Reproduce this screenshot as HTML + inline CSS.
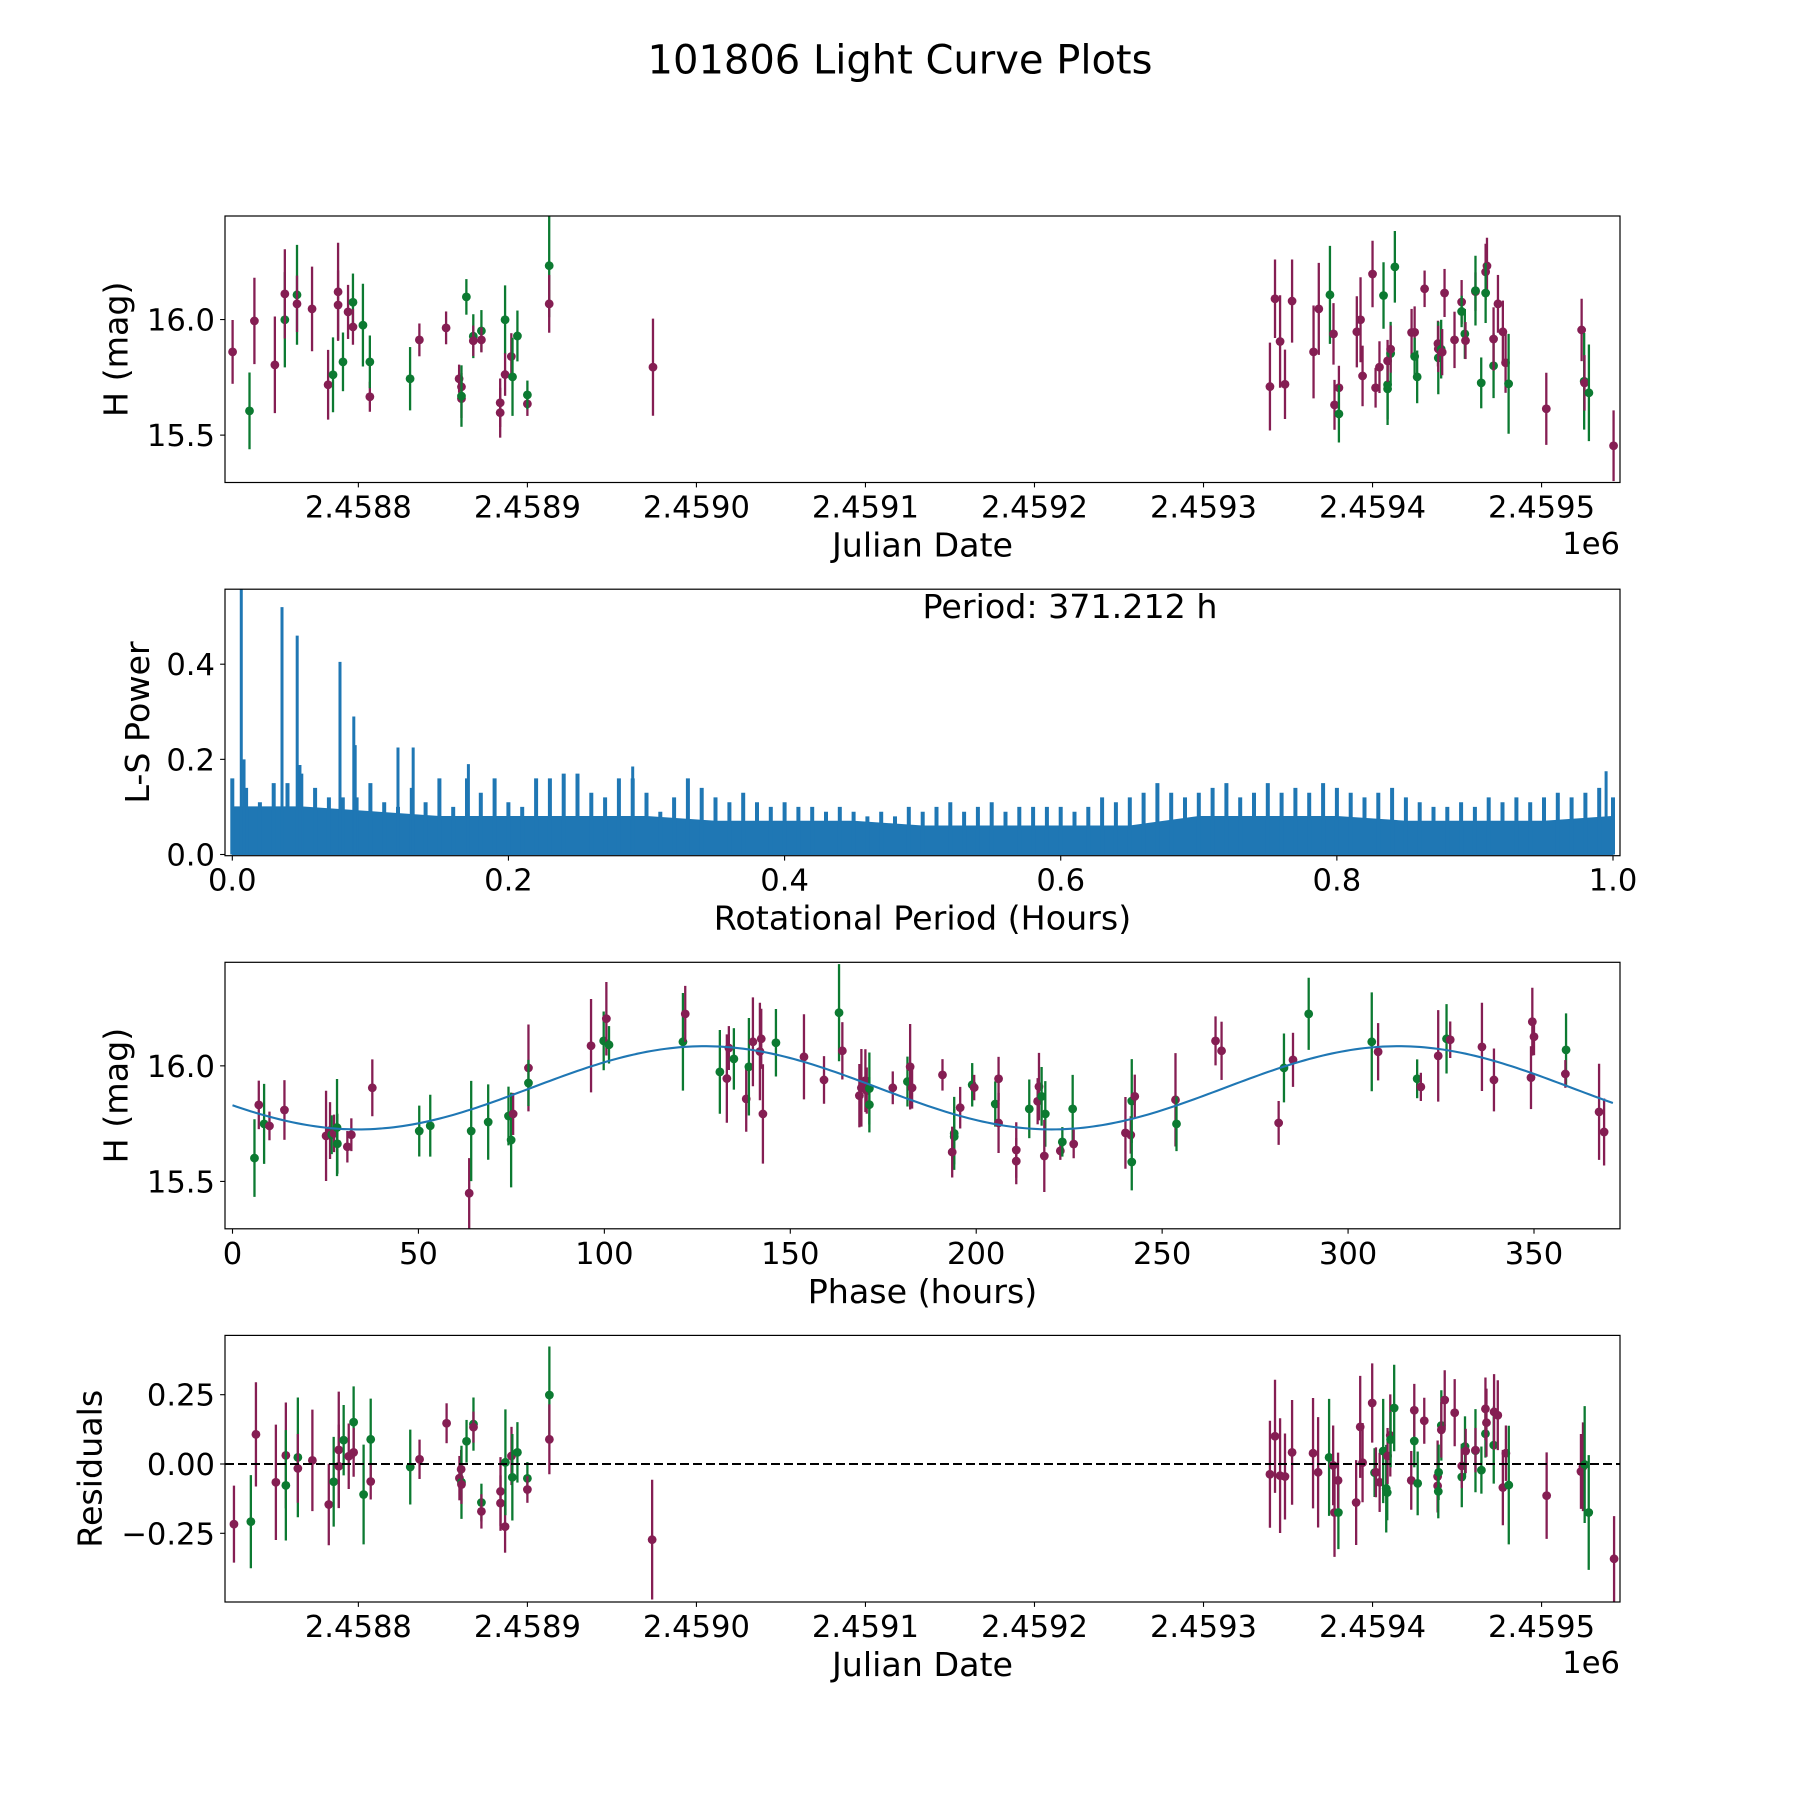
<!DOCTYPE html>
<html>
<head>
<meta charset="utf-8">
<title>101806 Light Curve Plots</title>
<style>
  html, body { margin: 0; padding: 0; background: #ffffff; }
  svg { display: block; font-family: "DejaVu Sans", "Liberation Sans", sans-serif; }
  .tick { font-size: 30.6px; fill: #000; }
  .lab { font-size: 33.3px; fill: #000; }
</style>
</head>
<body>
<svg id="fig" xmlns="http://www.w3.org/2000/svg" width="1800" height="1800" viewBox="0 0 1800 1800">
  <rect x="0" y="0" width="1800" height="1800" fill="#ffffff"/>
  <text x="900" y="73.6" text-anchor="middle" font-size="40">101806 Light Curve Plots</text>
  <defs>
    <clipPath id="c1"><rect x="225" y="216" width="1395" height="266.5"/></clipPath>
    <clipPath id="c2"><rect x="225" y="589.2" width="1395" height="266.5"/></clipPath>
    <clipPath id="c3"><rect x="225" y="962.3" width="1395" height="266.5"/></clipPath>
    <clipPath id="c4"><rect x="225" y="1335.4" width="1395" height="266.6"/></clipPath>
  </defs>
  <g id="panel1"></g>
  <g id="panel2"></g>
  <g id="panel3"></g>
  <g id="panel4"></g>
</svg>
<script>
// ---------------- DATA ----------------
// Panel 1: light curve  [band, julianDate, H mag, error]
const lightCurvePts = [
['P',2458725.6,15.860,0.138],['G',2458735.6,15.605,0.166],['P',2458738.5,15.994,0.187],['P',2458750.6,15.804,0.209],
['G',2458756.5,15.999,0.206],['P',2458756.5,16.111,0.193],['G',2458763.7,16.107,0.216],['P',2458763.7,16.068,0.122],
['P',2458772.6,16.046,0.183],['P',2458782.1,15.718,0.151],['G',2458785.0,15.761,0.162],['P',2458788.0,16.120,0.212],
['P',2458788.0,16.063,0.150],['G',2458790.9,15.817,0.127],['P',2458793.9,16.033,0.117],['G',2458796.8,16.075,0.124],
['P',2458796.8,15.968,0.077],['G',2458802.7,15.976,0.179],['P',2458806.8,15.666,0.065],['G',2458806.8,15.817,0.114],
['G',2458830.6,15.744,0.137],['P',2458836.1,15.912,0.071],['P',2458851.9,15.964,0.071],['P',2458859.6,15.744,0.061],
['P',2458861.0,15.709,0.060],['P',2458861.0,15.658,0.084],['G',2458861.0,15.669,0.133],['G',2458863.9,16.098,0.077],
['G',2458868.0,15.928,0.095],['P',2458868.0,15.908,0.066],['G',2458872.8,15.951,0.090],['P',2458872.8,15.912,0.054],
['P',2458883.9,15.640,0.105],['P',2458883.9,15.597,0.108],['G',2458886.8,15.999,0.149],['P',2458886.8,15.762,0.092],
['P',2458890.5,15.840,0.101],['G',2458891.2,15.752,0.169],['G',2458894.1,15.929,0.110],['P',2458900.0,15.635,0.052],
['G',2458900.0,15.674,0.062],['G',2458912.9,16.233,0.223],['P',2458912.9,16.068,0.125],['P',2458974.3,15.794,0.210],
['P',2459339.3,15.710,0.190],['P',2459342.3,16.090,0.170],['P',2459345.3,15.905,0.200],['P',2459348.2,15.720,0.150],
['P',2459352.4,16.080,0.180],
['P',2459365.1,15.860,0.201],['P',2459368.2,16.046,0.199],['G',2459374.8,16.107,0.212],['P',2459376.9,15.938,0.133],
['P',2459377.5,15.631,0.108],['P',2459380.1,15.705,0.095],['G',2459380.1,15.592,0.124],['P',2459390.7,15.947,0.154],
['P',2459392.9,15.999,0.184],['P',2459394.1,15.756,0.131],['P',2459400.0,16.197,0.144],['P',2459401.8,15.705,0.086],
['P',2459404.1,15.794,0.112],['G',2459406.5,16.104,0.144],['G',2459408.9,15.700,0.156],['G',2459408.9,15.718,0.150],
['P',2459408.9,15.821,0.091],['G',2459410.7,15.853,0.137],['P',2459410.7,15.872,0.102],['G',2459413.2,16.228,0.155],
['P',2459423.1,15.944,0.102],['P',2459424.9,15.945,0.112],['G',2459424.9,15.840,0.081],['G',2459426.4,15.752,0.114],
['P',2459430.8,16.133,0.079],['P',2459438.7,15.896,0.099],['G',2459438.9,15.834,0.157],['P',2459438.9,15.873,0.100],
['G',2459440.6,15.872,0.127],['P',2459441.2,15.859,0.100],['P',2459442.6,16.115,0.104],['P',2459448.5,15.912,0.122],
['P',2459452.7,16.076,0.095],['G',2459452.7,16.035,0.068],['G',2459454.6,15.938,0.108],['P',2459455.0,15.909,0.080],
['P',2459460.9,16.121,0.083],['G',2459460.9,16.125,0.151],['G',2459464.3,15.726,0.110],['P',2459466.9,16.206,0.122],
['P',2459467.7,16.232,0.122],['G',2459466.9,16.115,0.130],['G',2459471.6,15.800,0.140],['P',2459471.6,15.916,0.137],
['P',2459474.2,16.068,0.125],['P',2459477.1,15.947,0.135],['P',2459478.7,15.813,0.130],['G',2459480.5,15.722,0.216],
['P',2459502.8,15.614,0.156],['P',2459523.7,15.955,0.135],['G',2459525.2,15.733,0.209],['P',2459525.4,15.726,0.120],
['G',2459528.0,15.683,0.209],['P',2459542.6,15.454,0.153]
];
const jdTicks = [2458800,2458900,2459000,2459100,2459200,2459300,2459400,2459500];
const jdTickLabels = ['2.4588','2.4589','2.4590','2.4591','2.4592','2.4593','2.4594','2.4595'];
const magTicks = [15.5,16.0];
const magTickLabels = ['15.5','16.0'];

// Panel 2: Lomb-Scargle periodogram
const lsEnvelope = [0.16,0.14,0.11,0.15,0.15,0.17,0.14,0.12,0.12,0.12,0.15,0.11,0.10,0.14,0.11,0.16,0.10,0.16,0.13,0.16,
0.11,0.10,0.16,0.16,0.17,0.17,0.13,0.12,0.16,0.16,0.13,0.09,0.12,0.16,0.14,0.12,0.11,0.13,0.11,0.10,
0.11,0.10,0.10,0.09,0.10,0.09,0.08,0.09,0.08,0.10,0.09,0.10,0.11,0.09,0.10,0.11,0.09,0.10,0.10,0.10,
0.10,0.09,0.10,0.12,0.11,0.12,0.13,0.15,0.13,0.12,0.13,0.14,0.15,0.12,0.13,0.15,0.13,0.14,0.13,0.15,
0.14,0.13,0.12,0.13,0.14,0.12,0.11,0.10,0.10,0.11,0.10,0.12,0.11,0.12,0.11,0.12,0.13,0.12,0.13,0.14,0.12];
const lsEnvelopeStep = 0.01;
const lsFloor = [0.10,0.10,0.09,0.08,0.08,0.08,0.08,0.07,0.07,0.07,0.06,0.06,0.06,0.06,0.08,0.08,0.08,0.07,0.07,0.07,0.08];
const lsFloorStep = 0.05;
const lsSpikePeriods = [0.0065,0.0085,0.036,0.047,0.049,0.078,0.088,0.089,0.120,0.131,0.171,0.290,0.995];
const lsSpikePowers  = [0.560,0.200,0.520,0.460,0.188,0.405,0.290,0.230,0.225,0.225,0.190,0.185,0.175];
const periodTicks = [0,0.2,0.4,0.6,0.8,1.0];
const periodTickLabels = ['0.0','0.2','0.4','0.6','0.8','1.0'];
const powerTicks = [0,0.2,0.4];
const powerTickLabels = ['0.0','0.2','0.4'];
const periodText = 'Period: 371.212 h';

// Panel 3: phase-folded  [band, phase (h), H mag, error]
const phasePts = [
['G',5.91,15.601,0.168],['P',7.07,15.831,0.105],['G',8.50,15.749,0.173],['P',9.94,15.740,0.062],['P',13.97,15.809,0.129],
['P',25.16,15.697,0.195],['P',26.23,15.720,0.123],['G',26.68,15.702,0.084],['P',27.30,15.708,0.081],['G',28.11,15.733,0.210],
['G',28.20,15.663,0.130],['P',30.89,15.650,0.068],['P',31.96,15.702,0.071],['P',37.60,15.905,0.123],['G',50.22,15.718,0.110],
['G',53.18,15.741,0.134],['P',63.65,15.449,0.152],['G',64.19,15.718,0.217],['G',68.76,15.757,0.163],['G',74.22,15.783,0.127],
['G',74.93,15.679,0.205],['P',75.47,15.792,0.091],['P',79.59,15.991,0.188],['G',79.59,15.926,0.100],['P',96.42,16.087,0.202],
['G',99.82,16.108,0.127],['P',100.54,16.204,0.159],['G',101.25,16.091,0.081],['G',121.13,16.104,0.211],['P',121.75,16.225,0.121],
['G',131.06,15.974,0.181],['P',132.94,15.945,0.191],['P',133.48,16.077,0.095],['G',134.83,16.030,0.133],['P',138.15,15.857,0.142],
['G',138.87,15.996,0.211],['P',139.95,16.104,0.192],['P',141.83,16.062,0.211],['P',142.19,16.117,0.130],['P',142.64,15.792,0.215],
['G',146.14,16.100,0.146],['P',153.68,16.039,0.184],['P',159.07,15.939,0.103],['G',163.11,16.230,0.210],['P',164.00,16.065,0.124],
['P',168.58,15.871,0.137],['P',169.12,15.905,0.168],['P',170.20,15.936,0.136],['P',170.56,15.893,0.100],['G',171.27,15.902,0.156],
['G',171.27,15.832,0.120],['P',177.56,15.905,0.071],['G',181.51,15.932,0.108],['P',182.23,15.996,0.185],['P',182.76,15.905,0.090],
['P',190.93,15.961,0.068],['G',194.08,15.708,0.158],['G',194.08,15.694,0.120],['P',193.54,15.627,0.110],['P',195.69,15.819,0.090],
['G',198.92,15.918,0.094],['P',199.46,15.906,0.055],['G',205.12,15.835,0.098],['P',206.01,15.944,0.095],['P',206.01,15.753,0.130],
['P',210.77,15.636,0.120],['P',210.77,15.588,0.100],['G',214.27,15.814,0.127],['P',216.88,15.910,0.146],['P',216.52,15.847,0.100],
['G',217.59,15.868,0.127],['G',218.58,15.792,0.142],['P',218.31,15.610,0.156],['P',222.62,15.632,0.039],['G',223.16,15.671,0.064],
['G',225.94,15.814,0.147],['P',226.21,15.662,0.062],['P',240.13,15.710,0.155],['P',241.56,15.701,0.081],['G',241.83,15.848,0.181],
['G',241.83,15.584,0.123],['P',242.64,15.868,0.094],['P',253.59,15.853,0.202],['G',253.86,15.749,0.118],['P',264.36,16.108,0.106],
['P',265.98,16.065,0.126],['P',281.33,15.753,0.095],['G',282.76,15.991,0.149],['P',285.19,16.026,0.117],['G',289.41,16.225,0.156],
['G',306.37,16.104,0.214],['P',308.08,16.061,0.124],['G',318.58,15.944,0.084],['P',319.57,15.909,0.061],['P',324.24,16.043,0.198],
['G',326.48,16.117,0.150],['P',327.47,16.113,0.079],['P',336.00,16.082,0.191],['P',339.23,15.939,0.136],['P',349.19,15.949,0.136],
['P',349.55,16.191,0.147],['P',350.00,16.126,0.080],['G',358.62,16.069,0.158],['P',358.44,15.965,0.060],['P',367.50,15.801,0.208],
['P',368.85,15.714,0.145]
];
// fitted model: [mean mag, amplitude, phase of maximum (h), model period (h)], drawn over [0, folding period]
const fitParams = [15.905, 0.18, 127.0, 186.5];
const foldPeriod = 371.212;
const phaseTicks = [0,50,100,150,200,250,300,350];
const phaseTickLabels = ['0','50','100','150','200','250','300','350'];

// Panel 4: residuals  [band, julianDate, residual, error]
const residualPts = [
['P',2458726.4,-0.217,0.139],['G',2458736.4,-0.208,0.168],['P',2458739.4,0.107,0.188],['P',2458751.2,-0.066,0.208],
['P',2458757.1,0.031,0.191],['G',2458757.1,-0.077,0.199],['G',2458764.2,0.024,0.216],['P',2458764.2,-0.016,0.124],
['P',2458772.8,0.013,0.183],['P',2458782.5,-0.146,0.147],['G',2458785.4,-0.064,0.162],['P',2458788.4,0.051,0.210],
['P',2458788.4,-0.008,0.150],['G',2458791.3,0.086,0.127],['P',2458794.3,0.028,0.118],['G',2458797.2,0.151,0.129],
['P',2458797.2,0.042,0.088],['G',2458803.1,-0.110,0.180],['G',2458807.3,0.089,0.147],['P',2458807.3,-0.063,0.065],
['G',2458830.7,-0.011,0.135],['P',2458836.2,0.017,0.071],['P',2458852.2,0.147,0.072],['P',2458859.8,-0.051,0.080],
['P',2458860.8,-0.019,0.070],['G',2458861.0,-0.066,0.132],['P',2458861.0,-0.074,0.070],['G',2458864.0,0.082,0.077],
['G',2458868.1,0.144,0.096],['P',2458868.1,0.133,0.056],['G',2458872.8,-0.139,0.068],['P',2458872.8,-0.171,0.062],
['P',2458884.1,-0.099,0.124],['P',2458884.1,-0.141,0.100],['P',2458886.8,-0.226,0.094],['G',2458887.0,0.006,0.191],
['P',2458890.6,0.029,0.105],['G',2458891.1,-0.048,0.156],['G',2458894.1,0.042,0.109],['G',2458900.0,-0.052,0.059],
['P',2458900.0,-0.092,0.048],['G',2458913.0,0.249,0.175],['P',2458913.0,0.089,0.126],['P',2458973.8,-0.273,0.216],
['P',2459339.3,-0.037,0.193],['P',2459342.3,0.100,0.204],['P',2459345.3,-0.042,0.207],['P',2459348.2,-0.045,0.155],
['P',2459352.4,0.042,0.189],['P',2459364.8,0.039,0.199],['P',2459367.8,-0.030,0.199],['G',2459374.3,0.024,0.211],
['P',2459376.7,-0.005,0.144],['P',2459377.5,-0.175,0.160],['G',2459379.8,-0.175,0.132],['P',2459379.6,-0.059,0.100],
['P',2459390.3,-0.139,0.153],['P',2459392.7,0.134,0.184],['P',2459394.1,0.005,0.143],['P',2459399.8,0.220,0.143],
['G',2459401.2,-0.031,0.088],['P',2459402.0,-0.030,0.090],['P',2459404.2,-0.066,0.107],['G',2459406.3,0.047,0.188],
['G',2459408.1,-0.089,0.158],['G',2459408.7,-0.103,0.100],['P',2459408.9,0.029,0.101],['P',2459410.5,0.103,0.148],
['G',2459410.7,0.088,0.100],['G',2459412.8,0.202,0.156],['P',2459422.9,-0.059,0.106],['G',2459424.7,0.083,0.095],
['P',2459424.7,0.194,0.095],['G',2459426.7,-0.070,0.115],['P',2459430.6,0.156,0.083],['P',2459438.5,-0.045,0.130],
['P',2459438.5,-0.079,0.090],['G',2459438.9,-0.099,0.097],['G',2459439.1,-0.030,0.100],['G',2459440.7,0.139,0.127],
['P',2459440.7,0.123,0.100],['P',2459442.7,0.231,0.107],['P',2459448.6,0.185,0.121],['G',2459452.8,-0.047,0.109],
['P',2459452.8,-0.007,0.080],['G',2459454.7,0.063,0.109],['P',2459455.1,0.047,0.080],['G',2459460.9,0.048,0.150],
['P',2459460.9,0.050,0.080],['G',2459464.4,-0.022,0.085],['G',2459466.8,0.109,0.086],['P',2459466.8,0.199,0.113],
['P',2459467.4,0.149,0.123],['G',2459471.7,0.068,0.139],['P',2459471.9,0.188,0.136],['P',2459474.1,0.176,0.126],
['P',2459477.1,-0.085,0.136],['P',2459478.9,0.039,0.100],['G',2459480.6,-0.076,0.214],['P',2459503.0,-0.114,0.156],
['P',2459523.3,-0.027,0.135],['P',2459524.5,-0.010,0.160],['G',2459525.5,-0.002,0.211],['G',2459527.9,-0.175,0.207],
['P',2459542.9,-0.342,0.154]
];
const residTicks = [-0.25,0,0.25];
const residTickLabels = ['\u22120.25','0.00','0.25'];

// ---------------- RENDERING ----------------
const NS = 'http://www.w3.org/2000/svg';
const COLORS = { P: '#851e53', G: '#0c7a31' };
const BLUE = '#1f77b4';
const L = 225, R = 1620;
const AX = [
  { top: 216, bot: 482.5 },
  { top: 589.2, bot: 855.7 },
  { top: 962.3, bot: 1228.8 },
  { top: 1335.4, bot: 1602 }
];
function lin(d0, d1, p0, p1) { return v => p0 + (v - d0) / (d1 - d0) * (p1 - p0); }
function mk(tag, attrs, parent) {
  const e = document.createElementNS(NS, tag);
  for (const k in attrs) e.setAttribute(k, attrs[k]);
  if (parent) parent.appendChild(e);
  return e;
}
function txt(parent, x, y, s, cls, anchor) {
  const t = mk('text', { x: x, y: y, class: cls, 'text-anchor': anchor || 'middle' }, parent);
  t.textContent = s;
  return t;
}

const xJD = lin(2458721.1, 2459546.4, L, R);
const yMag1 = lin(15.295, 16.448, AX[0].bot, AX[0].top);
const xPer = lin(0, 1, 232.3, 1613);
const yPow = lin(0, 0.4, 854.5, 664.2);
const xPh = lin(0, 350, 232.5, 1534);
const yMag3 = lin(15.295, 16.448, AX[2].bot, AX[2].top);
const yRes = lin(0, 0.25, 1464, 1394.7);

function frame(g, i) {
  const r = mk('rect', { x: L, y: AX[i].top, width: R - L, height: AX[i].bot - AX[i].top, fill: 'none', stroke: '#000', 'stroke-width': 1.2 }, g);
  
  
}
function xTicks(g, i, vals, labels, sx, name) {
  const grp = mk('g', {}, g);
  
  
  vals.forEach((v, k) => {
    const x = sx(v);
    mk('line', { x1: x, x2: x, y1: AX[i].bot, y2: AX[i].bot + 4.9, stroke: '#000', 'stroke-width': 1.1 }, grp);
    const t = txt(grp, x, AX[i].bot + 35, labels[k], 'tick');
    
    
  });
}
function yTicks(g, vals, labels, sy, name) {
  const grp = mk('g', {}, g);
  
  
  vals.forEach((v, k) => {
    const y = sy(v);
    mk('line', { x1: L - 4.9, x2: L, y1: y, y2: y, stroke: '#000', 'stroke-width': 1.1 }, grp);
    const t = txt(grp, 215, y + 11, labels[k], 'tick', 'end');
    
    
  });
}
function xLabel(g, i, s) {
  const t = txt(g, (L + R) / 2, AX[i].bot + 74, s, 'lab');
  
  
}
function yLabel(g, i, s, bx) {
  const cy = (AX[i].top + AX[i].bot) / 2;
  const t = mk('text', { x: bx, y: cy, class: 'lab', 'text-anchor': 'middle', transform: 'rotate(-90 ' + bx + ' ' + cy + ')' }, g);
  t.textContent = s;
  
  
}
function errPoints(g, pts, sx, sy, clip) {
  const grp = mk('g', { 'clip-path': 'url(#' + clip + ')' }, g);
  
  
  pts.forEach(p => {
    const c = COLORS[p[0]];
    const x = sx(p[1]);
    const pg = mk('g', {}, grp);
    
    
    mk('line', { x1: x, x2: x, y1: sy(p[2] - p[3]), y2: sy(p[2] + p[3]), stroke: c, 'stroke-width': 2.3 }, pg);
    mk('circle', { cx: x, cy: sy(p[2]), r: 4.4, fill: c }, pg);
  });
}

// Panel 1
(function () {
  const g = document.getElementById('panel1');
  errPoints(g, lightCurvePts, xJD, yMag1, 'c1');
  frame(g, 0);
  xTicks(g, 0, jdTicks, jdTickLabels, xJD, 'x-axis-ticks');
  yTicks(g, magTicks, magTickLabels, yMag1, 'y-axis-ticks');
  xLabel(g, 0, 'Julian Date');
  yLabel(g, 0, 'H (mag)', 127.5);
  const o = txt(g, R, 554, '1e6', 'tick', 'end');
  
  
})();

// Panel 2
(function () {
  const g = document.getElementById('panel2');
  const grp = mk('g', { 'clip-path': 'url(#c2)' }, g);
  
  
  let d = 'M' + xPer(0) + ' ' + yPow(0);
  lsFloor.forEach((v, k) => { d += ' L' + xPer(k * lsFloorStep) + ' ' + yPow(v); });
  d += ' L' + xPer((lsFloor.length - 1) * lsFloorStep) + ' ' + yPow(0) + ' Z';
  const fl = mk('path', { d: d, fill: BLUE, stroke: BLUE, 'stroke-width': 1 }, grp);
  
  
  let h = '';
  lsEnvelope.forEach((v, k) => {
    const x = xPer(k * lsEnvelopeStep);
    h += 'M' + x.toFixed(1) + ' ' + yPow(0) + ' V' + yPow(v).toFixed(1) + ' ';
  });
  const hp = mk('path', { d: h, fill: 'none', stroke: BLUE, 'stroke-width': 4 }, grp);
  
  
  lsSpikePeriods.forEach((p, k) => {
    const x = xPer(p);
    const s = mk('line', { x1: x, x2: x, y1: yPow(0), y2: yPow(lsSpikePowers[k]), stroke: BLUE, 'stroke-width': 3 }, grp);
    
    
  });
  frame(g, 1);
  xTicks(g, 1, periodTicks, periodTickLabels, xPer, 'x-axis-ticks');
  yTicks(g, powerTicks, powerTickLabels, yPow, 'y-axis-ticks');
  xLabel(g, 1, 'Rotational Period (Hours)');
  yLabel(g, 1, 'L-S Power', 149);
  const t = txt(g, (L + R) / 2, 618, periodText, 'lab', 'start');
  
  
})();

// Panel 3
(function () {
  const g = document.getElementById('panel3');
  errPoints(g, phasePts, xPh, yMag3, 'c3');
  const n = 300;
  let d = '';
  for (let k = 0; k <= n; k++) {
    const ph = foldPeriod * k / n;
    const m = fitParams[0] + fitParams[1] * Math.cos(2 * Math.PI * (ph - fitParams[2]) / fitParams[3]);
    d += (k ? ' L' : 'M') + xPh(ph).toFixed(2) + ' ' + yMag3(m).toFixed(2);
  }
  const c = mk('path', { d: d, fill: 'none', stroke: BLUE, 'stroke-width': 2.1, 'clip-path': 'url(#c3)' }, g);
  
  
  frame(g, 2);
  xTicks(g, 2, phaseTicks, phaseTickLabels, xPh, 'x-axis-ticks');
  yTicks(g, magTicks, magTickLabels, yMag3, 'y-axis-ticks');
  xLabel(g, 2, 'Phase (hours)');
  yLabel(g, 2, 'H (mag)', 127.5);
})();

// Panel 4
(function () {
  const g = document.getElementById('panel4');
  errPoints(g, residualPts, xJD, yRes, 'c4');
  const z = mk('line', { x1: L, x2: R, y1: yRes(0), y2: yRes(0), stroke: '#000', 'stroke-width': 2, 'stroke-dasharray': '9 4' }, g);
  
  
  frame(g, 3);
  xTicks(g, 3, jdTicks, jdTickLabels, xJD, 'x-axis-ticks');
  yTicks(g, residTicks, residTickLabels, yRes, 'y-axis-ticks');
  xLabel(g, 3, 'Julian Date');
  yLabel(g, 3, 'Residuals', 101.7);
  const o = txt(g, R, 1673, '1e6', 'tick', 'end');
  
  
})();
</script>
</body>
</html>
